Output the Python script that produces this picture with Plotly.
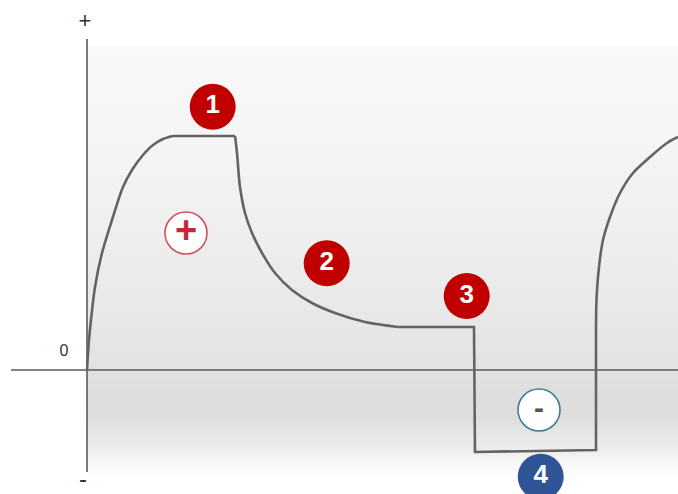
import plotly.graph_objects as go

# data units: origin at the axis crossing, 1 unit ~ 1 px
# rise to the first plateau
RISE_X :list[float] = [0, 2, 4, 8, 15, 25, 36, 45, 56, 66, 76, 86]
RISE_Y :list[float] = [0, 30, 50, 83, 117, 150, 183, 200, 215, 225, 231, 234]

# plateau 1
PLATEAU_X :list[float] = [86, 148]
PLATEAU_Y :list[float] = [234, 234]

# decay towards the second plateau
DECAY_X :list[float] = [148, 150, 153, 158, 165, 175, 188, 205, 225, 248, 278, 311]
DECAY_Y :list[float] = [234, 217, 183, 157, 137, 117, 97, 80, 67, 57, 48, 43]

# plateau 2, drop, negative phase, back to zero
STEP_X :list[float] = [311, 387, 388, 509, 509]
STEP_Y :list[float] = [43, 43, -82, -80, 40]

# next rise at the right edge
RISE2_X :list[float] = [509, 509.5, 512, 516, 523, 533, 546, 563, 580, 591]
RISE2_Y :list[float] = [40, 70, 103, 130, 153, 177, 197, 213, 227, 233]

# numbered markers
BADGE_LABELS :list[str] = ["1", "2", "3", "4"]
BADGE_X :list[float] = [125.7, 239.7, 379.7, 453.7]
BADGE_Y :list[float] = [263.3, 106.7, 74, -106.7]
BADGE_COLORS :list[str] = ["#c00000", "#c00000", "#c00000", "#2f5597"]

# sign markers
SIGN_LABELS :list[str] = ["+", "-"]
SIGN_X :list[float] = [99, 452]
SIGN_Y :list[float] = [137, -40]
SIGN_LINE_COLORS :list[str] = ["#d0505c", "#3d7f8e"]
SIGN_TEXT_COLORS :list[str] = ["#c0283c", "#555555"]

# axis labels
AXIS_LABELS :list[str] = ["+", "0", "-"]
AXIS_LABEL_X :list[float] = [-2, -23, -4]
AXIS_LABEL_Y :list[float] = [348, 18, -111]
AXIS_LABEL_SIZES :list[int] = [22, 16, 24]

CURVE_COLOR :str = "#646464"
CURVE_WIDTH :float = 2.6
AXIS_COLOR :str = "#5a5a5a"
AXIS_WIDTH :float = 1.6
FONT :str = "Liberation Sans, Arial, sans-serif"

X_RANGE :list[float] = [-87, 591]
Y_RANGE :list[float] = [-124, 370]

# gradient panel behind the curve
PANEL_X :list[float] = [0, 591, 591, 0, 0]
PANEL_Y :list[float] = [-110, -110, 323, 323, -110]
PANEL_SCALE :list = [
    [0.0, "#ffffff"],
    [0.03, "#fafafa"],
    [0.07, "#ededed"],
    [0.14, "#dfdfdf"],
    [0.19, "#dddddd"],
    [0.25, "#e2e2e2"],
    [0.40, "#e9e9e9"],
    [0.74, "#f4f4f4"],
    [1.0, "#f9f9f9"],
]


fig = go.Figure()

fig.add_trace(go.Scatter(
    x=PANEL_X, y=PANEL_Y, mode="none", fill="toself",
    fillgradient=dict(type="vertical", colorscale=PANEL_SCALE),
    hoverinfo="skip", showlegend=False,
))

# axes
fig.add_trace(go.Scatter(x=[0, 0], y=[331, -102], mode="lines",
                         line=dict(color=AXIS_COLOR, width=AXIS_WIDTH), showlegend=False, hoverinfo="skip"))
fig.add_trace(go.Scatter(x=[-76, 591], y=[0, 0], mode="lines",
                         line=dict(color=AXIS_COLOR, width=AXIS_WIDTH), showlegend=False, hoverinfo="skip"))

# waveform
for xs, ys, shape in [
    (RISE_X, RISE_Y, "spline"),
    (PLATEAU_X, PLATEAU_Y, "linear"),
    (DECAY_X, DECAY_Y, "spline"),
    (STEP_X, STEP_Y, "linear"),
    (RISE2_X, RISE2_Y, "spline"),
]:
    fig.add_trace(go.Scatter(
        x=xs, y=ys, mode="lines",
        line=dict(color=CURVE_COLOR, width=CURVE_WIDTH, shape=shape, smoothing=0.9),
        showlegend=False, hoverinfo="skip",
    ))

# sign circles
fig.add_trace(go.Scatter(
    x=SIGN_X, y=SIGN_Y, mode="markers+text", text=SIGN_LABELS,
    textposition="middle center",
    textfont=dict(family=FONT, size=[38, 30], color=SIGN_TEXT_COLORS, weight="bold"),
    marker=dict(size=42, color="#ffffff", line=dict(color=SIGN_LINE_COLORS, width=1.6)),
    showlegend=False, hoverinfo="skip",
))

# numbered badges
fig.add_trace(go.Scatter(
    x=BADGE_X, y=BADGE_Y, mode="markers+text", text=BADGE_LABELS,
    textposition="middle center",
    textfont=dict(family=FONT, size=26, color="#ffffff", weight="bold"),
    marker=dict(size=46, color=BADGE_COLORS, line=dict(width=0)),
    showlegend=False, hoverinfo="skip",
))

# axis labels
fig.add_trace(go.Scatter(
    x=AXIS_LABEL_X, y=AXIS_LABEL_Y, mode="text", text=AXIS_LABELS,
    textposition="middle center",
    textfont=dict(family=FONT, size=AXIS_LABEL_SIZES, color="#333333"),
    showlegend=False, hoverinfo="skip",
))

fig.update_layout(
    width=678,
    height=494,
    margin=dict(l=0, r=0, t=0, b=0),
    paper_bgcolor="#ffffff",
    plot_bgcolor="#ffffff",
    xaxis=dict(range=X_RANGE, visible=False, fixedrange=True),
    yaxis=dict(range=Y_RANGE, visible=False, fixedrange=True),
    showlegend=False,
)

# drop the default page margin so the figure sits flush in the window
fig.write_html(
    "out.html",
    config=dict(displayModeBar=False),
    post_script="document.body.style.margin='0';document.body.style.overflow='hidden';",
)
